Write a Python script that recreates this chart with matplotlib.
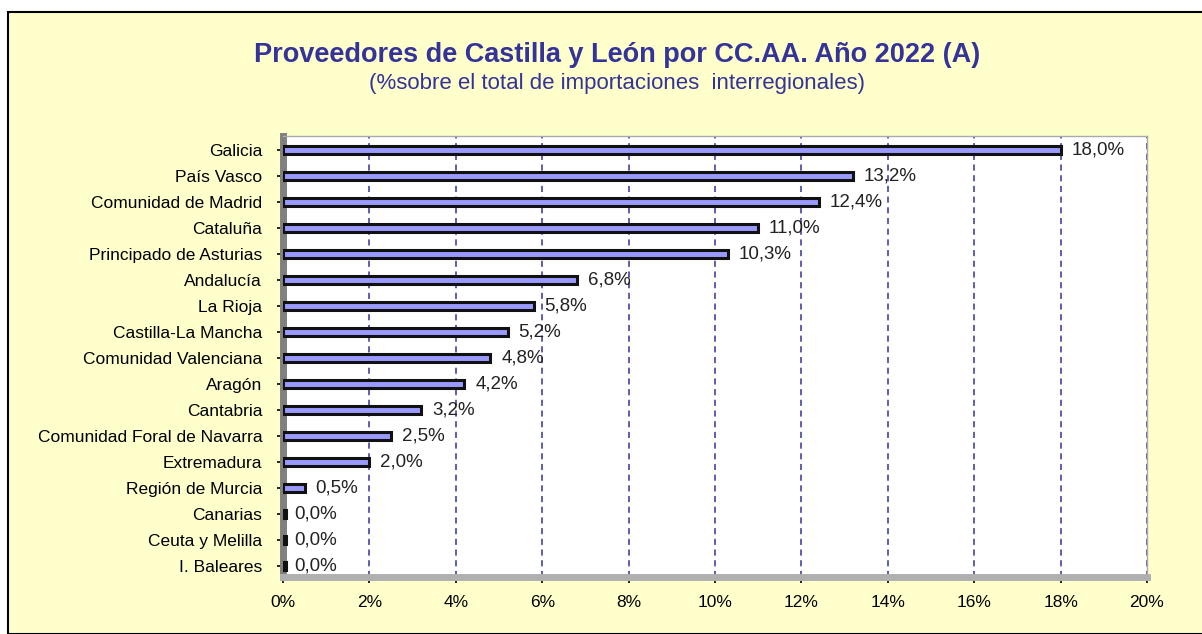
import matplotlib.pyplot as plt
from matplotlib.patches import Rectangle

plt.rcParams['font.family'] = ['Liberation Sans', 'DejaVu Sans']

regions = ['Galicia', 'País Vasco', 'Comunidad de Madrid', 'Cataluña',
           'Principado de Asturias', 'Andalucía', 'La Rioja', 'Castilla-La Mancha',
           'Comunidad Valenciana', 'Aragón', 'Cantabria',
           'Comunidad Foral de Navarra', 'Extremadura', 'Región de Murcia',
           'Canarias', 'Ceuta y Melilla', 'I. Baleares']
shares = [18.0, 13.2, 12.4, 11.0, 10.3, 6.8, 5.8, 5.2, 4.8, 4.2, 3.2,
          2.5, 2.0, 0.5, 0.0, 0.0, 0.0]
xticks = [0, 2, 4, 6, 8, 10, 12, 14, 16, 18, 20]

W, H = 1202, 634
fig = plt.figure(figsize=(W / 100, H / 100), dpi=100)
fig.patch.set_facecolor('white')
fig.patches.append(Rectangle((8 / W, 0), 1, 1 - 12 / H, transform=fig.transFigure,
                             facecolor='#FFFFCC', edgecolor='black', lw=1.5, zorder=-10))

ax = fig.add_axes([283 / W, 1 - 577 / H, (1147 - 283) / W, (577 - 136) / H])
ax.set_facecolor('white')

y = list(range(len(regions)))
# zero bars still show a small dark stub, like the 3d original
ax.barh(y, [max(s, 0.06) for s in shares], height=0.3, color='#9999FF',
        edgecolor='#111111', lw=2.2, zorder=4)

for yi, s in zip(y, shares):
    ax.text(s + 0.25, yi, f'{s:.1f}%'.replace('.', ','), va='center', ha='left',
            fontsize=13.5, color='#222222', zorder=5)

ax.set_xlim(0, 20)
ax.set_ylim(16.42, -0.54)
ax.set_xticks(xticks)
ax.set_xticklabels([f'{t}%' for t in xticks], fontsize=12.5)
ax.set_yticks(y)
ax.set_yticklabels(regions, fontsize=12.5)
ax.tick_params(axis='y', length=4, width=1.2, pad=11)
ax.tick_params(axis='x', length=4, width=1.2, pad=9)
ax.grid(axis='x', color='#333399', linestyle=(0, (4, 3)), lw=1.1, zorder=1)

for side in ['top', 'right']:
    ax.spines[side].set_color('#AAAAAA')
    ax.spines[side].set_linewidth(1.0)
ax.spines['left'].set_color('#808080')
ax.spines['left'].set_linewidth(5)
ax.spines['bottom'].set_color('#B0B0B0')
ax.spines['bottom'].set_linewidth(5)

fig.text(617 / W, 1 - 55 / H, 'Proveedores de Castilla y León por CC.AA. Año 2022 (A)',
         ha='center', va='center', fontsize=19.5, fontweight='bold', color='#333399')
fig.text(617 / W, 1 - 83 / H, '(%sobre el total de importaciones  interregionales)',
         ha='center', va='center', fontsize=16, color='#333399')

fig.savefig('out.png', dpi=100, facecolor=fig.get_facecolor())
